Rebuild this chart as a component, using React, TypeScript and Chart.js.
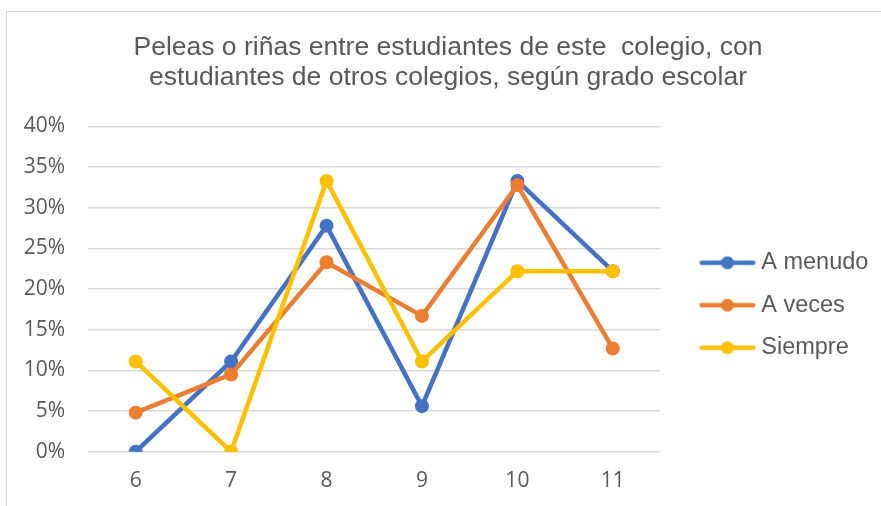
import React, { useEffect, useRef } from "react";
import { Chart, registerables } from "chart.js";

Chart.register(...registerables);

const categories = ["6", "7", "8", "9", "10", "11"];
const aMenudo = [0, 11.1, 27.8, 5.6, 33.3, 22.2];
const aVeces = [4.8, 9.5, 23.3, 16.7, 32.8, 12.7];
const siempre = [11.1, 0, 33.3, 11.1, 22.2, 22.2];
const seriesNames = ["A menudo", "A veces", "Siempre"];
const seriesColors = ["#4472C4", "#ED7D31", "#FFC000"];
const titleLines = [
  "Peleas o riñas entre estudiantes de este  colegio, con",
  "estudiantes de otros colegios, según grado escolar",
];

function legendImage(color: string): HTMLCanvasElement {
  const c = document.createElement("canvas");
  c.width = 88;
  c.height = 16;
  const ctx = c.getContext("2d")!;
  ctx.strokeStyle = color;
  ctx.lineWidth = 4.5;
  ctx.lineCap = "round";
  ctx.beginPath();
  ctx.moveTo(31.25, 8);
  ctx.lineTo(82.75, 8);
  ctx.stroke();
  ctx.fillStyle = color;
  ctx.beginPath();
  ctx.arc(57, 8, 6.5, 0, Math.PI * 2);
  ctx.fill();
  return c;
}

const framePlugin = {
  id: "frame",
  beforeDraw(chart: any) {
    const { ctx, width, height } = chart;
    ctx.save();
    ctx.fillStyle = "#ffffff";
    ctx.fillRect(0, 0, width, height);
    ctx.strokeStyle = "#d9d9d9";
    ctx.lineWidth = 1;
    ctx.strokeRect(6.5, 11.5, width + 20, height + 20);
    ctx.restore();
  },
};

export default function App() {
  const ref = useRef<HTMLCanvasElement>(null);
  useEffect(() => {
    document.body.style.margin = "0";
    const values = [aMenudo, aVeces, siempre];
    const images = seriesColors.map(legendImage);
    const chart = new Chart(ref.current!, {
      type: "line",
      data: {
        labels: categories,
        datasets: values.map((d, i) => ({
          label: seriesNames[i],
          data: d,
          borderColor: seriesColors[i],
          backgroundColor: seriesColors[i],
          borderWidth: 4.5,
          pointRadius: 7,
          pointBorderWidth: 0,
          pointStyle: "circle",
          tension: 0,
          order: 3 - i,
        })),
      },
      options: {
        responsive: false,
        animation: false,
        layout: { padding: { left: 23, right: 8, top: 0, bottom: 0 } },
        plugins: {
          title: {
            display: true,
            text: titleLines,
            color: "#595959",
            font: { family: "'Liberation Sans', Arial", size: 26.5, weight: "normal", lineHeight: 1.16 },
            padding: { top: 32, bottom: 33 },
          },
          legend: {
            position: "right",
            align: "start",
            title: { display: true, text: "", font: { size: 10, lineHeight: 1.2 }, padding: { top: 220, bottom: 0 } },
            labels: {
              usePointStyle: true,
              pointStyleWidth: 70,
              padding: 19,
              color: "#595959",
              font: { family: "'Liberation Sans', Arial", size: 23.5, lineHeight: 1.2 },
              generateLabels: (ch: any) =>
                ch.data.datasets.map((ds: any, i: number) => ({
                  text: ds.label,
                  pointStyle: images[i],
                  fillStyle: ds.borderColor,
                  strokeStyle: ds.borderColor,
                  lineWidth: 0,
                  hidden: false,
                  datasetIndex: i,
                  fontColor: "#595959",
                })),
            },
          },
          tooltip: { enabled: false },
        },
        scales: {
          x: {
            offset: true,
            grid: { display: false, drawTicks: false },
            border: { display: false },
            ticks: {
              color: "#595959",
              padding: 17,
              font: { family: "'Open Sans'", size: 21 },
            },
            afterFit: (scale: any) => {
              scale.height = 54.3;
            },
          },
          y: {
            min: 0,
            max: 40,
            grid: { color: "#d9d9d9", lineWidth: 1.5, drawTicks: false },
            border: { display: false },
            ticks: {
              stepSize: 5,
              color: "#595959",
              padding: 23,
              font: { family: "'Open Sans'", size: 21 },
              callback: (v: any) => v + "%",
            },
            afterFit: (scale: any) => {
              scale.width = 65;
            },
          },
        },
      },
      plugins: [framePlugin],
    });
    return () => chart.destroy();
  }, []);
  return <canvas ref={ref} width={881} height={506} style={{ display: "block" }} />;
}
